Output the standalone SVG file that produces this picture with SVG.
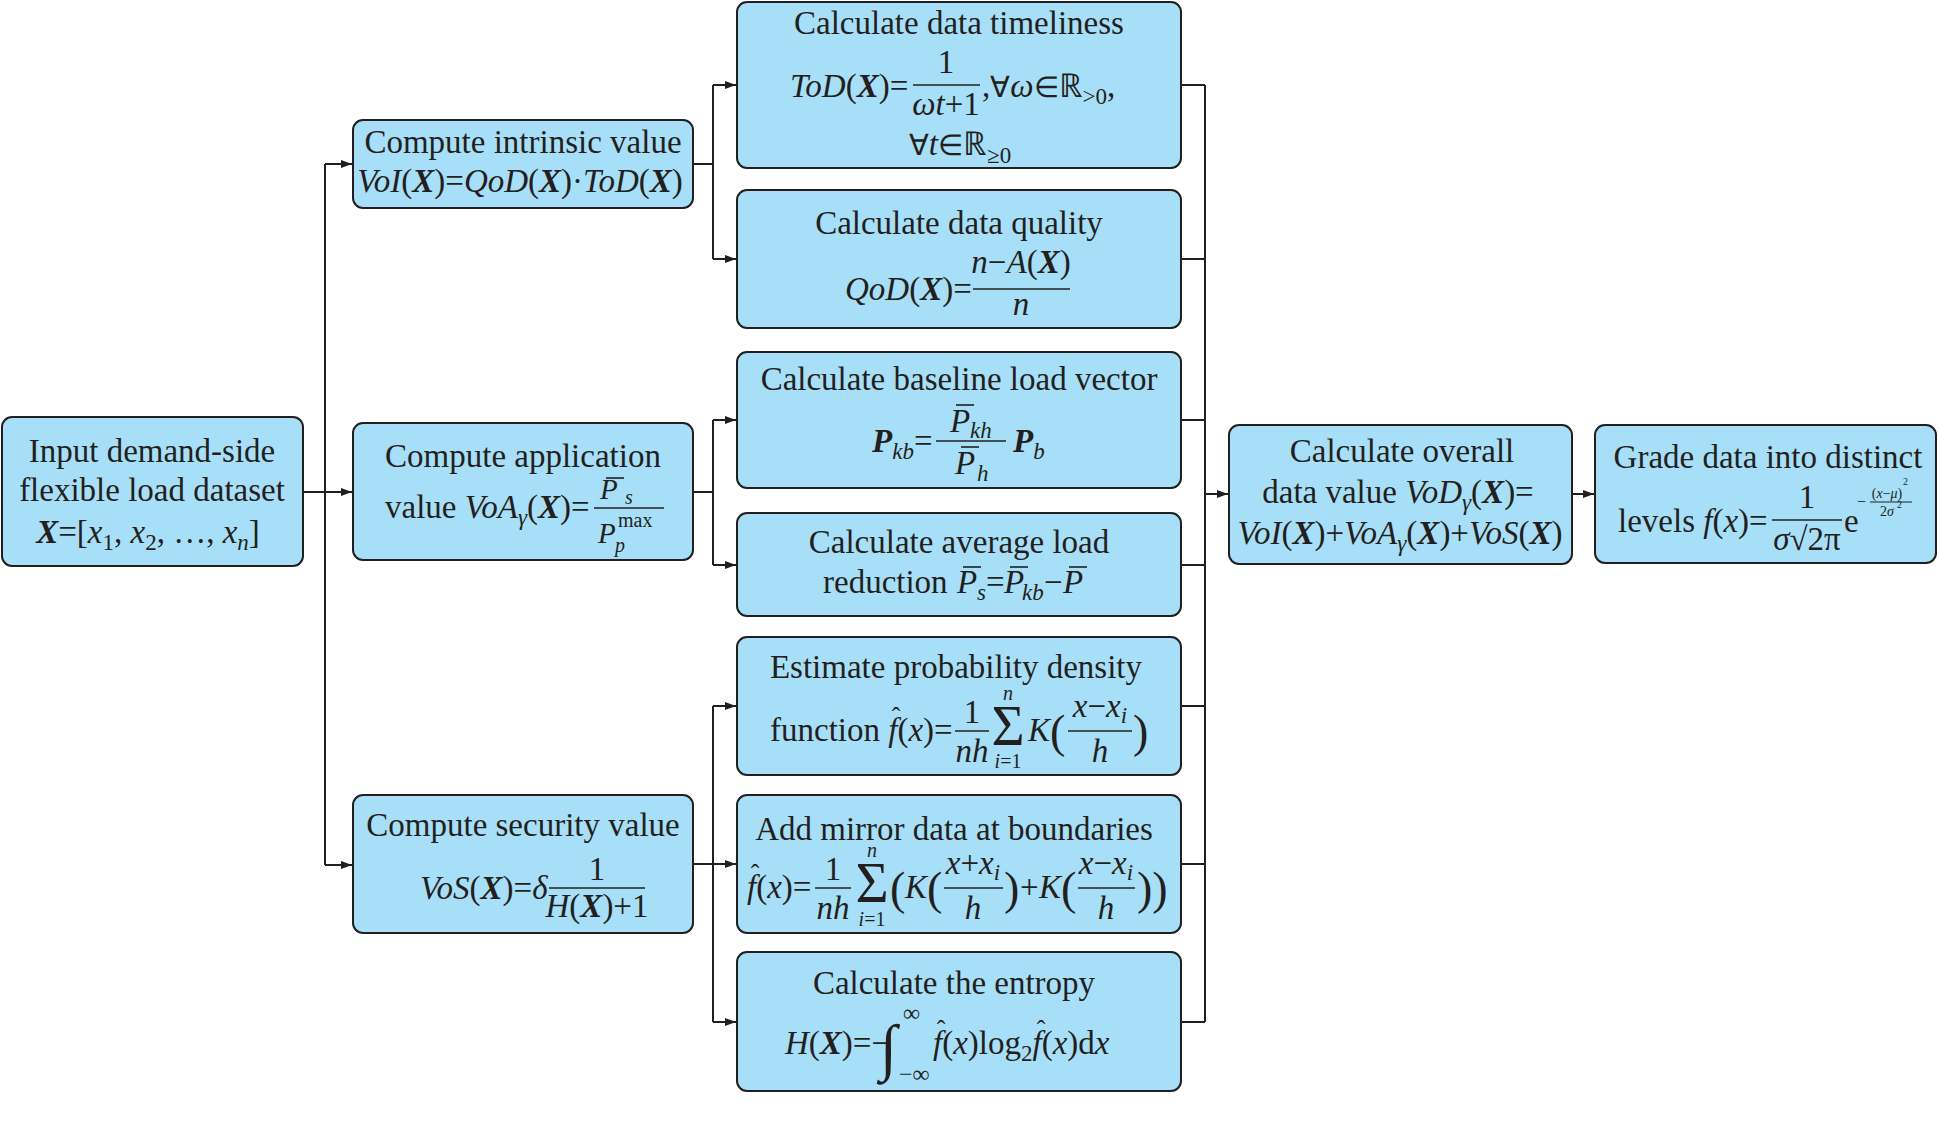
<svg xmlns="http://www.w3.org/2000/svg" width="1938" height="1127" viewBox="0 0 1938 1127">
<defs>
<marker id="ah" markerWidth="11" markerHeight="8" refX="11" refY="4" orient="auto" markerUnits="userSpaceOnUse"><path d="M0,0 L11,4 L0,8 Z" fill="#231f20"/></marker>
<style>
.box{fill:#a8dff8;stroke:#231f20;stroke-width:2}
text{font-family:"Liberation Serif","Times New Roman",serif;font-size:33px;fill:#231f20}
.c{text-anchor:middle}
.i{font-style:italic}
.b{font-style:italic;font-weight:bold}
.s{font-size:23px}
.ss{font-size:20px}
.fr{font-size:29px}
.big{font-size:46px}
.sig{font-size:57px}
.sym{font-size:29px}
.fb{stroke:#231f20;stroke-width:1.6}
.ln{stroke:#231f20;stroke-width:2;fill:none}
.ar{marker-end:url(#ah)}
</style>
</defs>
<rect width="1938" height="1127" fill="#ffffff"/>
<g id="connectors">
<path class="ln ar" d="M303,492 H352"/>
<path class="ln" d="M325,164 V865"/>
<path class="ln ar" d="M325,164 H352"/>
<path class="ln ar" d="M325,865 H352"/>
<path class="ln" d="M693,164 H713 M713,85 V259"/>
<path class="ln ar" d="M713,85 H736"/>
<path class="ln ar" d="M713,259 H736"/>
<path class="ln" d="M693,492 H713 M713,420 V565"/>
<path class="ln ar" d="M713,420 H736"/>
<path class="ln ar" d="M713,565 H736"/>
<path class="ln ar" d="M693,864 H736"/>
<path class="ln" d="M713,706 V1022"/>
<path class="ln ar" d="M713,706 H736"/>
<path class="ln ar" d="M713,1022 H736"/>
<path class="ln" d="M1181,85 H1205 M1181,259 H1205 M1181,420 H1205 M1181,565 H1205 M1181,706 H1205 M1181,864 H1205 M1181,1022 H1205 M1205,85 V1022"/>
<path class="ln ar" d="M1205,494 H1228"/>
<path class="ln ar" d="M1572,494 H1594"/>
</g>
<g id="input">
<rect class="box" x="2" y="417" width="301" height="149" rx="10"/>
<text class="c" x="152" y="462">Input demand-side</text>
<text class="c" x="152" y="501">flexible load dataset</text>
<text class="c" x="148" y="543"><tspan class="b">X</tspan>=[<tspan class="i">x</tspan><tspan class="s" dy="7">1</tspan><tspan dy="-7">, </tspan><tspan class="i">x</tspan><tspan class="s" dy="7">2</tspan><tspan dy="-7">, …, </tspan><tspan class="i">x</tspan><tspan class="s i" dy="7">n</tspan><tspan dy="-7">]</tspan></text>
</g>
<g id="intrinsic">
<rect class="box" x="353" y="120" width="340" height="88" rx="10"/>
<text class="c" x="523" y="153">Compute intrinsic value</text>
<text class="c" x="520" y="192"><tspan class="i">VoI</tspan>(<tspan class="b">X</tspan>)=<tspan class="i">QoD</tspan>(<tspan class="b">X</tspan>)·<tspan class="i">ToD</tspan>(<tspan class="b">X</tspan>)</text>
</g>
<g id="application">
<rect class="box" x="353" y="423" width="340" height="137" rx="10"/>
<text class="c" x="523" y="467">Compute application</text>
<text x="385" y="518">value <tspan class="i">VoA</tspan><tspan class="s i" dy="7">γ</tspan><tspan dy="-7">(</tspan><tspan class="b">X</tspan>)=</text>
<line class="fb" x1="594" y1="508" x2="664" y2="508"/>
<text class="i fr" x="600" y="499">P</text>
<line class="fb" x1="606" y1="478" x2="624" y2="478"/>
<text class="ss i" x="625" y="504">s</text>
<text class="i fr" x="598" y="543">P</text>
<text class="ss" x="618" y="527">max</text>
<text class="ss i" x="615" y="552">p</text>
</g>
<g id="security">
<rect class="box" x="353" y="795" width="340" height="138" rx="10"/>
<text class="c" x="523" y="836">Compute security value</text>
<text x="420" y="899"><tspan class="i">VoS</tspan>(<tspan class="b">X</tspan>)=<tspan class="i">δ</tspan></text>
<line class="fb" x1="549" y1="888" x2="645" y2="888"/>
<text class="c" x="597" y="880">1</text>
<text class="c" x="597" y="917"><tspan class="i">H</tspan>(<tspan class="b">X</tspan>)+1</text>
</g>
<g id="timeliness">
<rect class="box" x="737" y="2" width="444" height="166" rx="10"/>
<text class="c" x="959" y="34">Calculate data timeliness</text>
<text x="790" y="97"><tspan class="i">ToD</tspan>(<tspan class="b">X</tspan>)=</text>
<line class="fb" x1="913" y1="85" x2="980" y2="85"/>
<text class="c" x="946" y="73">1</text>
<text class="c" x="946" y="115"><tspan class="i">ωt</tspan>+1</text>
<text x="982" y="97">,<tspan class="sym">∀</tspan><tspan class="i">ω</tspan><tspan class="sym">∈</tspan>ℝ<tspan class="s" dy="7">&gt;0</tspan><tspan dy="-7">,</tspan></text>
<text class="c" x="960" y="155"><tspan class="sym">∀</tspan><tspan class="i">t</tspan><tspan class="sym">∈</tspan>ℝ<tspan class="s" dy="8">≥0</tspan></text>
</g>
<g id="quality">
<rect class="box" x="737" y="190" width="444" height="138" rx="10"/>
<text class="c" x="959" y="234">Calculate data quality</text>
<text x="845" y="300"><tspan class="i">QoD</tspan>(<tspan class="b">X</tspan>)=</text>
<line class="fb" x1="973" y1="289" x2="1070" y2="289"/>
<text class="c" x="1021" y="273"><tspan class="i">n</tspan>−<tspan class="i">A</tspan>(<tspan class="b">X</tspan>)</text>
<text class="c i" x="1021" y="315">n</text>
</g>
<g id="baseline">
<rect class="box" x="737" y="352" width="444" height="136" rx="10"/>
<text class="c" x="959" y="390">Calculate baseline load vector</text>
<text x="872" y="452"><tspan class="b">P</tspan><tspan class="s i" dy="7">kb</tspan><tspan dy="-7">=</tspan></text>
<line class="fb" x1="936" y1="441" x2="1006" y2="441"/>
<text class="i" x="950" y="432">P</text>
<line class="fb" x1="956" y1="405" x2="974" y2="405"/>
<text class="s i" x="970" y="438">kh</text>
<text class="i" x="955" y="474">P</text>
<line class="fb" x1="961" y1="447" x2="979" y2="447"/>
<text class="s i" x="977" y="481">h</text>
<text x="1013" y="452"><tspan class="b">P</tspan><tspan class="s i" dy="7">b</tspan></text>
</g>
<g id="average">
<rect class="box" x="737" y="513" width="444" height="103" rx="10"/>
<text class="c" x="959" y="553">Calculate average load</text>
<text x="823" y="593">reduction</text>
<text class="i" x="957" y="593">P</text>
<line class="fb" x1="963" y1="567" x2="981" y2="567"/>
<text class="s i" x="977" y="600">s</text>
<text x="986" y="593">=</text>
<text class="i" x="1004" y="593">P</text>
<line class="fb" x1="1010" y1="567" x2="1028" y2="567"/>
<text class="s i" x="1022" y="600">kb</text>
<text x="1044" y="593">−</text>
<text class="i" x="1063" y="593">P</text>
<line class="fb" x1="1069" y1="567" x2="1087" y2="567"/>
</g>
<g id="estimate">
<rect class="box" x="737" y="637" width="444" height="138" rx="10"/>
<text class="c" x="956" y="678">Estimate probability density</text>
<text x="770" y="741">function <tspan class="i">f</tspan>(<tspan class="i">x</tspan>)=</text>
<text class="c" x="896" y="725" style="font-size:26px">ˆ</text>
<line class="fb" x1="955" y1="731" x2="989" y2="731"/>
<text class="c" x="972" y="723">1</text>
<text class="c i" x="972" y="762">nh</text>
<text class="c sig" x="1008" y="745">Σ</text>
<text class="c ss i" x="1008" y="700">n</text>
<text class="c ss" x="1008" y="768"><tspan class="i">i</tspan>=1</text>
<text class="i" x="1028" y="741">K</text>
<text class="big" x="1050" y="747">(</text>
<text class="c" x="1100" y="717"><tspan class="i">x</tspan>−<tspan class="i">x</tspan><tspan class="s i" dy="6">i</tspan></text>
<line class="fb" x1="1068" y1="731" x2="1132" y2="731"/>
<text class="c i" x="1100" y="762">h</text>
<text class="big" x="1133" y="747">)</text>
</g>
<g id="mirror">
<rect class="box" x="737" y="795" width="444" height="138" rx="10"/>
<text class="c" x="954" y="840">Add mirror data at boundaries</text>
<text x="747" y="898"><tspan class="i">f</tspan>(<tspan class="i">x</tspan>)=</text>
<text class="c" x="755" y="882" style="font-size:26px">ˆ</text>
<line class="fb" x1="815" y1="888" x2="851" y2="888"/>
<text class="c" x="833" y="880">1</text>
<text class="c i" x="833" y="919">nh</text>
<text class="c sig" x="872" y="902">Σ</text>
<text class="c ss i" x="872" y="857">n</text>
<text class="c ss" x="872" y="926"><tspan class="i">i</tspan>=1</text>
<text class="big" x="890" y="904">(</text>
<text class="i" x="905" y="898">K</text>
<text class="big" x="927" y="904">(</text>
<text class="c" x="973" y="874"><tspan class="i">x</tspan>+<tspan class="i">x</tspan><tspan class="s i" dy="6">i</tspan></text>
<line class="fb" x1="944" y1="888" x2="1003" y2="888"/>
<text class="c i" x="973" y="919">h</text>
<text class="big" x="1004" y="904">)</text>
<text x="1020" y="898">+</text>
<text class="i" x="1039" y="898">K</text>
<text class="big" x="1061" y="904">(</text>
<text class="c" x="1106" y="874"><tspan class="i">x</tspan>−<tspan class="i">x</tspan><tspan class="s i" dy="6">i</tspan></text>
<line class="fb" x1="1078" y1="888" x2="1135" y2="888"/>
<text class="c i" x="1106" y="919">h</text>
<text class="big" x="1137" y="904">))</text>
</g>
<g id="entropy">
<rect class="box" x="737" y="952" width="444" height="139" rx="10"/>
<text class="c" x="954" y="994">Calculate the entropy</text>
<text x="785" y="1054"><tspan class="i">H</tspan>(<tspan class="b">X</tspan>)=−</text>
<text x="880" y="1068" style="font-size:62px">∫</text>
<text x="903" y="1021" style="font-size:24px">∞</text>
<text x="899" y="1082" style="font-size:24px">−∞</text>
<text x="933" y="1054"><tspan class="i">f</tspan>(<tspan class="i">x</tspan>)log<tspan class="s" dy="7">2</tspan><tspan class="i" dy="-7">f</tspan>(<tspan class="i">x</tspan>)d<tspan class="i">x</tspan></text>
<text class="c" x="941" y="1038" style="font-size:26px">ˆ</text>
<text class="c" x="1041" y="1038" style="font-size:26px">ˆ</text>
</g>
<g id="overall">
<rect class="box" x="1229" y="425" width="343" height="139" rx="10"/>
<text class="c" x="1402" y="462">Calculate overall</text>
<text class="c" x="1398" y="503">data value <tspan class="i">VoD</tspan><tspan class="s i" dy="7">γ</tspan><tspan dy="-7">(</tspan><tspan class="b">X</tspan>)=</text>
<text class="c" x="1400" y="544"><tspan class="i">VoI</tspan>(<tspan class="b">X</tspan>)+<tspan class="i">VoA</tspan><tspan class="s i" dy="7">γ</tspan><tspan dy="-7">(</tspan><tspan class="b">X</tspan>)+<tspan class="i">VoS</tspan>(<tspan class="b">X</tspan>)</text>
</g>
<g id="grade">
<rect class="box" x="1595" y="425" width="341" height="138" rx="10"/>
<text class="c" x="1768" y="468">Grade data into distinct</text>
<text x="1618" y="532">levels <tspan class="i">f</tspan>(<tspan class="i">x</tspan>)=</text>
<line class="fb" x1="1772" y1="520" x2="1842" y2="520"/>
<text class="c" x="1807" y="508">1</text>
<text class="c" x="1807" y="550"><tspan class="i">σ</tspan>√2π</text>
<text x="1844" y="532">e</text>
<text x="1857" y="507" style="font-size:16px">−</text>
<line x1="1870" y1="502" x2="1912" y2="502" stroke="#231f20" stroke-width="1"/>
<text class="c" x="1887" y="498" style="font-size:14px">(<tspan class="i">x</tspan>−<tspan class="i">μ</tspan>)</text>
<text x="1903" y="485" style="font-size:10px">2</text>
<text class="c" x="1887" y="516" style="font-size:14px">2<tspan class="i">σ</tspan></text>
<text x="1897" y="508" style="font-size:10px">2</text>
</g>
</svg>
